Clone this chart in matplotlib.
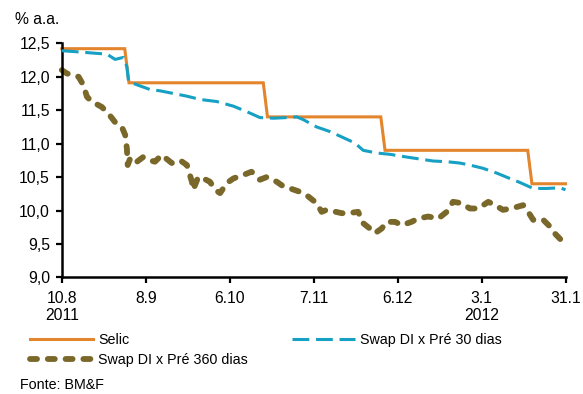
import matplotlib.pyplot as plt
from matplotlib.ticker import FuncFormatter

plt.rcParams['font.family'] = ['Liberation Sans', 'DejaVu Sans']

# x = business-day index from 10.8.2011 (0) to 31.1.2012 (120)
tick_pos = [0, 20, 40, 60, 80, 100, 120]
tick_labels = ["10.8\n2011", "8.9", "6.10", "7.11", "6.12", "3.1\n2012", "31.1"]

selic_x = [0, 15, 16, 48, 49, 76, 77, 111, 112, 120]
selic_y = [12.42, 12.42, 11.91, 11.91, 11.40, 11.40, 10.90, 10.90, 10.40, 10.40]

swap30_x = [0, 4.4, 8.3, 10.7, 12.7, 14.7, 15.5, 15.9, 17.9, 21.0, 23.4, 26.6, 29.8,
            33.0, 36.9, 40.9, 44.0, 47.2, 50.4, 53.6, 56.0, 57.5, 60.7, 63.9, 66.7,
            69.8, 71.8, 75.0, 78.2, 82.1, 85.3, 88.5, 91.7, 94.8, 97.2, 100.4, 103.6,
            106.7, 109.1, 112.3, 115.5, 118.7, 120]
swap30_y = [12.39, 12.37, 12.35, 12.34, 12.26, 12.29, 12.15, 11.93, 11.88, 11.81, 11.79,
            11.75, 11.71, 11.66, 11.63, 11.56, 11.48, 11.39, 11.38, 11.39, 11.40, 11.36,
            11.25, 11.18, 11.10, 11.01, 10.90, 10.86, 10.84, 10.80, 10.77, 10.74, 10.73,
            10.71, 10.68, 10.63, 10.56, 10.48, 10.42, 10.33, 10.33, 10.34, 10.31]

swap360_x = [0, 1.2, 4.0, 5.1, 6.0, 7.1, 9.5, 11.1, 12.7, 14.3, 15.1, 15.5, 15.7, 16.3,
             17.5, 19.4, 21.0, 22.2, 23.8, 26.2, 28.2, 29.8, 31.0, 31.3, 32.5, 33.7,
             35.3, 36.5, 37.7, 39.3, 40.9, 43.2, 45.2, 47.2, 48.8, 51.2, 52.8, 54.4,
             56.7, 58.7, 60.7, 61.9, 63.1, 66.7, 68.2, 70.6, 71.8, 73.4, 74.6, 76.2,
             77.4, 79.4, 81.0, 83.3, 84.9, 87.3, 89.7, 91.7, 93.2, 95.2, 97.2, 99.2,
             101.6, 103.2, 105.1, 107.1, 109.9, 111.1, 112.3, 114.7, 116.3, 117.4,
             119.4, 120]
swap360_y = [12.10, 12.05, 12.00, 11.88, 11.70, 11.63, 11.55, 11.45, 11.32, 11.25, 11.13,
             10.93, 10.68, 10.78, 10.71, 10.80, 10.75, 10.73, 10.83, 10.71, 10.75, 10.68,
             10.43, 10.31, 10.50, 10.48, 10.43, 10.31, 10.26, 10.41, 10.48, 10.53, 10.58,
             10.46, 10.50, 10.43, 10.36, 10.33, 10.28, 10.21, 10.11, 9.98, 10.01, 9.96,
             9.96, 9.98, 9.81, 9.73, 9.66, 9.73, 9.83, 9.83, 9.78, 9.83, 9.88, 9.91,
             9.88, 9.98, 10.13, 10.11, 10.03, 10.03, 10.13, 10.08, 10.01, 10.03, 10.08,
             9.98, 9.86, 9.86, 9.76, 9.66, 9.53, 9.56]

fig = plt.figure(figsize=(5.83, 3.94), dpi=100)
ax = fig.add_axes([0.106, 0.296, 0.864, 0.594])

fs = 10.3      # legend / notes
fs_tick = 11.3 # tick labels

l1, = ax.plot(selic_x, selic_y, color='#E3852C', lw=2.2, label='Selic',
              solid_joinstyle='miter', clip_on=False, zorder=2)
l2, = ax.plot(swap30_x, swap30_y, color='#15A0C4', lw=2.2, dashes=[5.5, 2.2],
              label='Swap DI x Pré 30 dias', clip_on=False, zorder=3)
l3, = ax.plot(swap360_x, swap360_y, color='#7A682B', lw=4.2, dashes=[1.2, 1.85],
              dash_capstyle='round', label='Swap DI x Pré 360 dias',
              clip_on=False, zorder=1)

ax.set_xlim(0, 120)
ax.set_ylim(9.0, 12.5)
ax.set_xticks(tick_pos)
ax.set_xticklabels(tick_labels, fontsize=fs_tick, linespacing=1.15)
ax.set_yticks([9.0, 9.5, 10.0, 10.5, 11.0, 11.5, 12.0, 12.5])
ax.yaxis.set_major_formatter(FuncFormatter(lambda v, p: f"{v:.1f}".replace('.', ',')))
ax.tick_params(axis='y', labelsize=fs_tick, direction='out', length=4, width=1.6, pad=4.5)
ax.tick_params(axis='x', direction='out', length=4, width=1.6, pad=6)

for s in ['top', 'right']:
    ax.spines[s].set_visible(False)
for s in ['left', 'bottom']:
    ax.spines[s].set_linewidth(1.8)
    ax.spines[s].set_color('black')

fig.text(15 / 583, 1 - 20 / 394, '% a.a.', fontsize=fs_tick, va='center', ha='left')
fig.text(20 / 583, 1 - 385 / 394, 'Fonte: BM&F', fontsize=fs, va='center', ha='left')

fig.legend([l1, l3, l2], ['Selic', 'Swap DI x Pré 360 dias', 'Swap DI x Pré 30 dias'],
           ncol=2, loc='upper left', bbox_to_anchor=(30 / 583, 1 - 333 / 394),
           frameon=False, fontsize=fs, handlelength=4.4, handletextpad=0.35,
           columnspacing=3.1, labelspacing=0.45, borderpad=0, borderaxespad=0)

fig.savefig('out.png', dpi=100)
